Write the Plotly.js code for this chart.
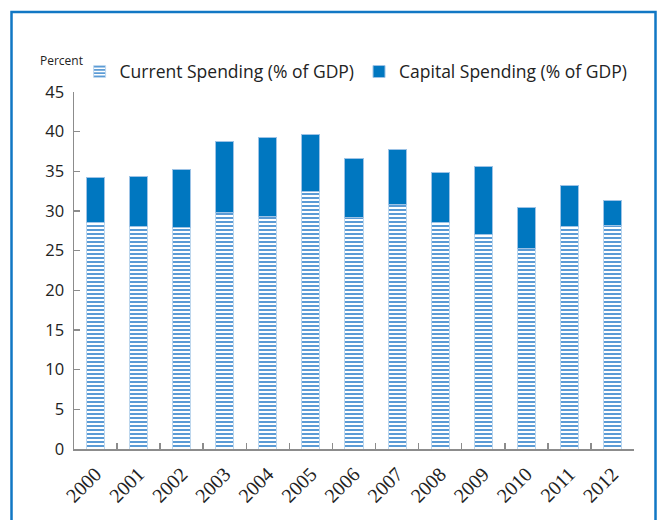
<!DOCTYPE html>
<html>
<head>
<meta charset="utf-8">
<script src="https://cdn.plot.ly/plotly-3.0.1.min.js"></script>
<style>html,body{margin:0;padding:0;background:#fff;}#chart{width:660px;height:520px;}</style>
</head>
<body>
<div id="chart"></div>
<script>
const years = ["2000","2001","2002","2003","2004","2005","2006","2007","2008","2009","2010","2011","2012"];
const currentSpending = [28.6, 28.1, 27.9, 29.8, 29.3, 32.4, 29.2, 30.8, 28.6, 27.1, 25.3, 28.0, 28.2];
const capitalSpending = [5.6, 6.3, 7.3, 9.0, 10.0, 7.2, 7.4, 6.9, 6.2, 8.5, 5.1, 5.2, 3.1];
const yTicks = [0, 5, 10, 15, 20, 25, 30, 35, 40, 45];

const traces = [
  {
    type: "bar", name: "Current Spending (% of GDP)", x: years, y: currentSpending,
    marker: {
      color: "#ffffff",
      pattern: {shape: "-", fgcolor: "#5B9BD5", bgcolor: "#ffffff", size: 4, solidity: 0.5},
      line: {color: "#BDD7EE", width: 1}
    },
    hoverinfo: "skip"
  },
  {
    type: "bar", name: "Capital Spending (% of GDP)", x: years, y: capitalSpending,
    marker: {color: "#0077C0", line: {color: "#9DC3E6", width: 1}},
    hoverinfo: "skip"
  }
];

const layout = {
  width: 660, height: 520,
  margin: {l: 74, r: 26, t: 92, b: 71},
  paper_bgcolor: "#ffffff", plot_bgcolor: "#ffffff",
  barmode: "stack", bargap: 0.58,
  showlegend: true,
  legend: {
    orientation: "h", x: 0.01, xanchor: "left", y: 1.057, yanchor: "middle",
    font: {family: "Open Sans", size: 17.5, color: "#222"},
    traceorder: "normal", itemclick: false, itemdoubleclick: false
  },
  xaxis: {
    type: "category", showgrid: false, zeroline: false,
    showline: true, linecolor: "#8c8c8c", linewidth: 1.5,
    ticks: "inside", tickson: "boundaries", ticklen: 6, tickcolor: "#8c8c8c", tickwidth: 1.5,
    tickangle: -45, ticklabelstandoff: 4,
    tickfont: {family: "Liberation Serif", size: 20, color: "#222"}
  },
  yaxis: {
    range: [0, 45], tickvals: yTicks, showgrid: false, zeroline: false,
    showline: true, linecolor: "#8c8c8c", linewidth: 1.5,
    ticks: "inside", ticklen: 6, tickcolor: "#8c8c8c", tickwidth: 1.5,
    tickfont: {family: "Open Sans", size: 16.5, color: "#222"},
    ticklabelstandoff: 5
  },
  annotations: [
    {text: "Percent", xref: "paper", yref: "paper", x: -0.023, y: 1.088,
     xanchor: "center", yanchor: "middle", showarrow: false,
     font: {family: "Open Sans", size: 12, color: "#222"}}
  ],
  shapes: [
    {type: "rect", xref: "paper", yref: "paper", x0: -0.1116, x1: 1.0384, y0: -0.3, y1: 1.2243,
     line: {color: "#1177C4", width: 2.5}, fillcolor: "rgba(0,0,0,0)", layer: "below"}
  ]
};

Plotly.newPlot("chart", traces, layout, {displayModeBar: false, staticPlot: true});
</script>
</body>
</html>
